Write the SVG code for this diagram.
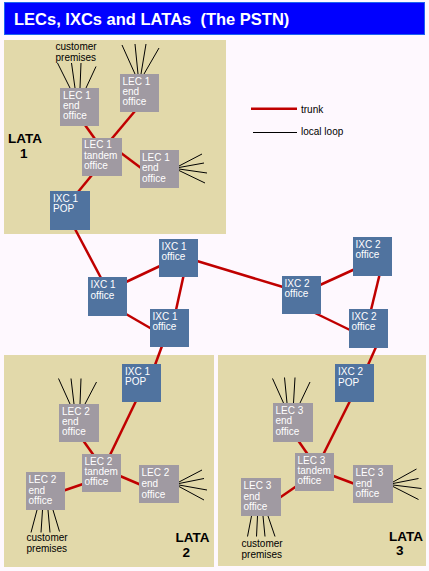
<svg xmlns="http://www.w3.org/2000/svg" width="429" height="571" viewBox="0 0 429 571">
<style>
.bg{fill:#FEF8FE}
.lata{fill:#E2D9AA}
.lec{fill:#A09AA2}
.ixc{fill:#50739F}
.nt{font-family:"Liberation Sans",Arial,sans-serif;font-size:10px;fill:#FFFFFF}
.trunk{stroke:#C00000;stroke-width:2.5;fill:none}
.loop{stroke:#000000;stroke-width:1;fill:none}
.lbl{font-family:"Liberation Sans",Arial,sans-serif;font-size:10px;fill:#000000}
.lata-t{font-family:"Liberation Sans",Arial,sans-serif;font-size:13.5px;font-weight:bold;fill:#000000}
</style>
<rect class="bg" x="0" y="0" width="429" height="571"/>
<g id="title">
<rect x="4.5" y="2.5" width="420" height="32" fill="#0000FF" stroke="#1E64F0" stroke-width="1"/>
<text x="14" y="25" xml:space="preserve" font-family="'Liberation Sans',Arial,sans-serif" font-size="16.5" font-weight="bold" fill="#FFFFFF">LECs, IXCs and LATAs  (The PSTN)</text>
</g>
<g id="latas">
<rect class="lata" x="4" y="40" width="222" height="194"/>
<rect class="lata" x="4" y="355" width="210" height="212"/>
<rect class="lata" x="218" y="355" width="208" height="211"/>
<text class="lata-t" x="8" y="143">LATA</text>
<text class="lata-t" x="20" y="158">1</text>
<text class="lata-t" x="175.5" y="542">LATA</text>
<text class="lata-t" x="182.5" y="557">2</text>
<text class="lata-t" x="389" y="541">LATA</text>
<text class="lata-t" x="396" y="555">3</text>
<text class="lbl" x="55.5" y="50">customer</text>
<text class="lbl" x="55.5" y="60.5">premises</text>
<text class="lbl" x="26.5" y="541">customer</text>
<text class="lbl" x="26.5" y="551.5">premises</text>
<text class="lbl" x="241.5" y="547">customer</text>
<text class="lbl" x="241.5" y="557.5">premises</text>
</g>
<g id="legend">
<line class="trunk" x1="251" y1="108.7" x2="297" y2="108.7"/>
<text class="lbl" x="301" y="112.5">trunk</text>
<line class="loop" x1="253" y1="132.5" x2="297" y2="132.5"/>
<text class="lbl" x="301" y="135">local loop</text>
</g>
<g id="connectors">
<!-- LATA 1 trunks -->
<line class="trunk" x1="85" y1="125" x2="95" y2="139"/>
<line class="trunk" x1="111.5" y1="139" x2="135" y2="111"/>
<line class="trunk" x1="121" y1="153" x2="141" y2="168"/>
<line class="trunk" x1="92" y1="175" x2="78" y2="192"/>
<line class="trunk" x1="75" y1="229" x2="101" y2="278"/>
<!-- backbone trunks -->
<line class="trunk" x1="126" y1="282" x2="160" y2="266"/>
<line class="trunk" x1="126" y1="314" x2="151" y2="328.5"/>
<line class="trunk" x1="183.5" y1="276" x2="176" y2="310"/>
<line class="trunk" x1="197" y1="261" x2="283" y2="287"/>
<line class="trunk" x1="320" y1="285" x2="354" y2="269.5"/>
<line class="trunk" x1="315" y1="313" x2="350" y2="330"/>
<line class="trunk" x1="379.5" y1="275" x2="371" y2="310"/>
<line class="trunk" x1="162" y1="346" x2="155" y2="365"/>
<line class="trunk" x1="376" y1="347" x2="368" y2="365"/>
<!-- LATA 2 trunks -->
<line class="trunk" x1="136" y1="401" x2="110" y2="455"/>
<line class="trunk" x1="83.5" y1="441" x2="93.5" y2="455"/>
<line class="trunk" x1="83" y1="484" x2="64" y2="490.5"/>
<line class="trunk" x1="120" y1="476" x2="140" y2="484.5"/>
<!-- LATA 3 trunks -->
<line class="trunk" x1="350" y1="401" x2="323.5" y2="454"/>
<line class="trunk" x1="298.5" y1="441" x2="307.5" y2="454"/>
<line class="trunk" x1="296" y1="486.5" x2="280" y2="497.5"/>
<line class="trunk" x1="333.5" y1="476" x2="353.5" y2="483.5"/>
<!-- local loops LATA 1 -->
<line class="loop" x1="57.5" y1="63" x2="70" y2="88"/>
<line class="loop" x1="71.5" y1="63" x2="75" y2="88"/>
<line class="loop" x1="81" y1="63" x2="80" y2="88"/>
<line class="loop" x1="96" y1="66.5" x2="86" y2="88"/>
<line class="loop" x1="122" y1="45" x2="135" y2="74"/>
<line class="loop" x1="135" y1="44" x2="138" y2="74"/>
<line class="loop" x1="146" y1="44" x2="141" y2="74"/>
<line class="loop" x1="159" y1="48" x2="144" y2="74"/>
<line class="loop" x1="179" y1="166" x2="202" y2="154"/>
<line class="loop" x1="179" y1="167.5" x2="204" y2="163"/>
<line class="loop" x1="179" y1="169" x2="207" y2="173"/>
<line class="loop" x1="179" y1="170.5" x2="205" y2="183"/>
<!-- local loops LATA 2 -->
<line class="loop" x1="58.5" y1="378.5" x2="70" y2="404"/>
<line class="loop" x1="71" y1="378.5" x2="74" y2="404"/>
<line class="loop" x1="81" y1="378.5" x2="80" y2="404"/>
<line class="loop" x1="96.5" y1="382" x2="85" y2="404"/>
<line class="loop" x1="179" y1="482" x2="202" y2="470"/>
<line class="loop" x1="179" y1="483.5" x2="204" y2="478.5"/>
<line class="loop" x1="179" y1="485" x2="207" y2="490"/>
<line class="loop" x1="179" y1="486.5" x2="204" y2="500"/>
<line class="loop" x1="37" y1="510" x2="31" y2="532.5"/>
<line class="loop" x1="42.5" y1="510" x2="41" y2="532.5"/>
<line class="loop" x1="48" y1="510" x2="50" y2="532.5"/>
<line class="loop" x1="53" y1="510" x2="59.5" y2="531.5"/>
<!-- local loops LATA 3 -->
<line class="loop" x1="272.5" y1="378.5" x2="283.5" y2="403"/>
<line class="loop" x1="284.5" y1="377.5" x2="287" y2="403"/>
<line class="loop" x1="295" y1="377.5" x2="293.5" y2="403"/>
<line class="loop" x1="310" y1="382" x2="300" y2="403"/>
<line class="loop" x1="393" y1="482" x2="416.5" y2="469"/>
<line class="loop" x1="393" y1="483.5" x2="418.5" y2="478.5"/>
<line class="loop" x1="393" y1="485" x2="421.5" y2="488.5"/>
<line class="loop" x1="393" y1="486.5" x2="418.5" y2="499.5"/>
<line class="loop" x1="251.5" y1="516" x2="247.5" y2="536.5"/>
<line class="loop" x1="257.5" y1="516" x2="256.5" y2="536.5"/>
<line class="loop" x1="263" y1="516" x2="265" y2="536.5"/>
<line class="loop" x1="268" y1="516" x2="275" y2="536.5"/>
</g>
<g id="n_l1_eo_a"><rect class="lec" x="60" y="88" width="39" height="38"/><text class="nt" x="63" y="99">LEC 1</text><text class="nt" x="63" y="109">end</text><text class="nt" x="63" y="119">office</text></g>
<g id="n_l1_eo_b"><rect class="lec" x="120" y="74" width="39" height="38"/><text class="nt" x="122.5" y="85">LEC 1</text><text class="nt" x="122.5" y="95">end</text><text class="nt" x="122.5" y="105">office</text></g>
<g id="n_l1_tandem"><rect class="lec" x="82" y="138" width="40" height="38"/><text class="nt" x="84" y="148">LEC 1</text><text class="nt" x="84" y="158.5">tandem</text><text class="nt" x="84" y="168.5">office</text></g>
<g id="n_l1_eo_c"><rect class="lec" x="140" y="150" width="39" height="38"/><text class="nt" x="142" y="161">LEC 1</text><text class="nt" x="142" y="171">end</text><text class="nt" x="142" y="181.5">office</text></g>
<g id="n_l1_pop"><rect class="ixc" x="50" y="191" width="40" height="39"/><text class="nt" x="53" y="202">IXC 1</text><text class="nt" x="53" y="212">POP</text></g>
<g id="n_ixc1_a"><rect class="ixc" x="88" y="277" width="39" height="39"/><text class="nt" x="90.5" y="288">IXC 1</text><text class="nt" x="90.5" y="299">office</text></g>
<g id="n_ixc1_b"><rect class="ixc" x="159" y="239" width="39" height="38"/><text class="nt" x="161.5" y="250">IXC 1</text><text class="nt" x="161.5" y="259.5">office</text></g>
<g id="n_ixc1_c"><rect class="ixc" x="150" y="309" width="39" height="38"/><text class="nt" x="152.5" y="320">IXC 1</text><text class="nt" x="152.5" y="330">office</text></g>
<g id="n_ixc2_a"><rect class="ixc" x="282" y="276" width="39" height="38"/><text class="nt" x="284.5" y="287">IXC 2</text><text class="nt" x="284.5" y="297">office</text></g>
<g id="n_ixc2_b"><rect class="ixc" x="353" y="237" width="39" height="39"/><text class="nt" x="355.5" y="248">IXC 2</text><text class="nt" x="355.5" y="258">office</text></g>
<g id="n_ixc2_c"><rect class="ixc" x="349" y="309" width="39" height="39"/><text class="nt" x="351.5" y="320">IXC 2</text><text class="nt" x="351.5" y="330">office</text></g>
<g id="n_l2_pop"><rect class="ixc" x="122" y="364" width="39" height="38"/><text class="nt" x="125" y="375">IXC 1</text><text class="nt" x="125" y="385">POP</text></g>
<g id="n_l2_eo_a"><rect class="lec" x="59" y="404" width="40" height="38"/><text class="nt" x="62" y="415">LEC 2</text><text class="nt" x="62" y="425">end</text><text class="nt" x="62" y="435">office</text></g>
<g id="n_l2_tandem"><rect class="lec" x="82" y="454" width="39" height="38"/><text class="nt" x="84.5" y="465">LEC 2</text><text class="nt" x="84.5" y="475">tandem</text><text class="nt" x="84.5" y="485">office</text></g>
<g id="n_l2_eo_b"><rect class="lec" x="26" y="472" width="39" height="38"/><text class="nt" x="28.5" y="483">LEC 2</text><text class="nt" x="28.5" y="493.5">end</text><text class="nt" x="28.5" y="503.5">office</text></g>
<g id="n_l2_eo_c"><rect class="lec" x="139" y="465" width="40" height="38"/><text class="nt" x="141.5" y="476">LEC 2</text><text class="nt" x="141.5" y="487">end</text><text class="nt" x="141.5" y="497.5">office</text></g>
<g id="n_l3_pop"><rect class="ixc" x="335" y="364" width="39" height="38"/><text class="nt" x="338" y="375">IXC 2</text><text class="nt" x="338" y="385.5">POP</text></g>
<g id="n_l3_eo_a"><rect class="lec" x="273" y="403" width="40" height="39"/><text class="nt" x="275.5" y="414">LEC 3</text><text class="nt" x="275.5" y="424">end</text><text class="nt" x="275.5" y="434.5">office</text></g>
<g id="n_l3_tandem"><rect class="lec" x="295" y="453" width="39" height="38"/><text class="nt" x="297.5" y="464">LEC 3</text><text class="nt" x="297.5" y="474">tandem</text><text class="nt" x="297.5" y="484">office</text></g>
<g id="n_l3_eo_b"><rect class="lec" x="241" y="478" width="40" height="38"/><text class="nt" x="243.5" y="489">LEC 3</text><text class="nt" x="243.5" y="500">end</text><text class="nt" x="243.5" y="510">office</text></g>
<g id="n_l3_eo_c"><rect class="lec" x="353" y="465" width="40" height="38"/><text class="nt" x="355.5" y="476">LEC 3</text><text class="nt" x="355.5" y="487">end</text><text class="nt" x="355.5" y="497">office</text></g>
</svg>
